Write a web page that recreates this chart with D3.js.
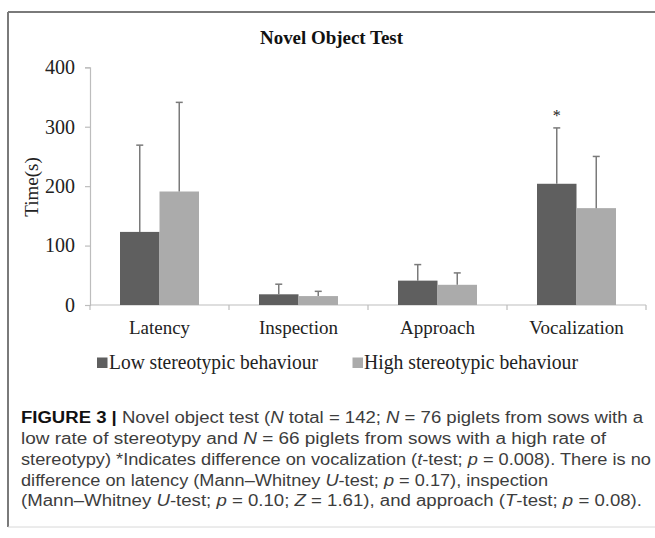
<!DOCTYPE html>
<html>
<head>
<meta charset="utf-8">
<script src="https://cdn.jsdelivr.net/npm/d3@7"></script>
<style>
  html, body { margin: 0; padding: 0; background: #fff; }
  svg { display: block; }
</style>
</head>
<body>
<svg id="chart" width="655" height="538"></svg>
<script>
const categories = ["Latency", "Inspection", "Approach", "Vocalization"];
const seriesNames = ["Low stereotypic behaviour", "High stereotypic behaviour"];
const lowMeans = [123, 18, 41, 204];
const highMeans = [191, 15, 34, 163];
const lowErr = [146, 17, 27, 94];
const highErr = [150, 8, 20, 87];
const yTicks = [0, 100, 200, 300, 400];
const significant = [false, false, false, true];
const titleText = "Novel Object Test";
const yLabel = "Time(s)";

(function () {
const colors = ["#5f5f5f", "#ababab"];
const serif = "'Liberation Serif', 'Times New Roman', serif";
const sans = "'Liberation Sans', Arial, sans-serif";

const svg = d3.select("#chart");

// frame
svg.append("line").attr("x1", 8).attr("x2", 655).attr("y1", 12).attr("y2", 12)
  .attr("stroke", "#7a7a7a").attr("stroke-width", 2);
svg.append("line").attr("x1", 8).attr("x2", 8).attr("y1", 12).attr("y2", 527)
  .attr("stroke", "#7a7a7a").attr("stroke-width", 2);
svg.append("line").attr("x1", 8).attr("x2", 655).attr("y1", 527).attr("y2", 527)
  .attr("stroke", "#d8d8d8").attr("stroke-width", 1);

const mLeft = 90, mRight = 646, mTop = 67.3, mBottom = 305;

const x = d3.scaleBand().domain(categories).range([mLeft, mRight]).padding(0);
const groupW = 79;
const x1 = d3.scaleBand().domain(seriesNames).range([0, groupW]).padding(0);
const y = d3.scaleLinear().domain([0, 400]).range([mBottom, mTop]);

// title
svg.append("text").attr("x", 331.5).attr("y", 44).attr("text-anchor", "middle")
  .attr("font-family", serif).attr("font-weight", "bold").attr("font-size", 18)
  .attr("fill", "#111").attr("textLength", 143).attr("lengthAdjust", "spacingAndGlyphs")
  .text(titleText);

// y axis
const yAxis = svg.append("g").attr("transform", `translate(${mLeft},0)`)
  .call(d3.axisLeft(y).tickValues(yTicks).tickSize(5).tickPadding(10).tickFormat(d3.format("d")));
yAxis.select(".domain").attr("stroke", "#bdbdbd").attr("stroke-width", 1.2);
yAxis.selectAll(".tick line").attr("stroke", "#bdbdbd").attr("stroke-width", 1.2);
yAxis.selectAll(".tick text").attr("font-family", serif).attr("font-size", 20).attr("fill", "#222");

// x axis
const xAxis = svg.append("g").attr("transform", `translate(0,${mBottom})`);
xAxis.append("line").attr("x1", mLeft).attr("x2", mRight).attr("y1", 0).attr("y2", 0)
  .attr("stroke", "#bdbdbd").attr("stroke-width", 1.2);
const boundaries = categories.map(c => x(c)).concat([x(categories[categories.length - 1]) + x.bandwidth()]);
xAxis.selectAll("line.xt").data(boundaries).join("line").attr("class", "xt")
  .attr("x1", d => d).attr("x2", d => d).attr("y1", 0).attr("y2", 5)
  .attr("stroke", "#bdbdbd").attr("stroke-width", 1.2);
xAxis.selectAll("text.cl").data(categories).join("text").attr("class", "cl")
  .attr("x", d => x(d) + x.bandwidth() / 2).attr("y", 29)
  .attr("text-anchor", "middle").attr("font-family", serif).attr("font-size", 19).attr("fill", "#222")
  .text(d => d);

// y label
svg.append("text").attr("transform", "translate(38,187) rotate(-90)")
  .attr("text-anchor", "middle").attr("font-family", serif).attr("font-size", 19).attr("fill", "#222")
  .text(yLabel);

// bars
const data = categories.map((c, i) => ({
  cat: c,
  vals: [
    { s: seriesNames[0], v: lowMeans[i], e: lowErr[i], col: colors[0] },
    { s: seriesNames[1], v: highMeans[i], e: highErr[i], col: colors[1] }
  ]
}));
const off = (x.bandwidth() - groupW) / 2;
const groups = svg.selectAll("g.grp").data(data).join("g").attr("class", "grp")
  .attr("transform", d => `translate(${x(d.cat) + off},0)`);
groups.selectAll("rect").data(d => d.vals).join("rect")
  .attr("x", d => x1(d.s)).attr("width", x1.bandwidth())
  .attr("y", d => y(d.v)).attr("height", d => y(0) - y(d.v))
  .attr("fill", d => d.col);
groups.selectAll("line.eb").data(d => d.vals).join("line").attr("class", "eb")
  .attr("x1", d => x1(d.s) + x1.bandwidth() / 2).attr("x2", d => x1(d.s) + x1.bandwidth() / 2)
  .attr("y1", d => y(d.v)).attr("y2", d => y(d.v + d.e))
  .attr("stroke", "#7a7a7a").attr("stroke-width", 1.5);
groups.selectAll("line.cap").data(d => d.vals).join("line").attr("class", "cap")
  .attr("x1", d => x1(d.s) + x1.bandwidth() / 2 - 3.5).attr("x2", d => x1(d.s) + x1.bandwidth() / 2 + 3.5)
  .attr("y1", d => y(d.v + d.e)).attr("y2", d => y(d.v + d.e))
  .attr("stroke", "#7a7a7a").attr("stroke-width", 1.5);

// significance marker
data.forEach((d, i) => {
  if (!significant[i]) return;
  const v = d.vals[0];
  svg.append("text")
    .attr("x", x(d.cat) + off + x1(v.s) + x1.bandwidth() / 2)
    .attr("y", y(v.v + v.e) - 7)
    .attr("text-anchor", "middle").attr("font-family", serif).attr("font-size", 16).attr("fill", "#222")
    .text("*");
});

// legend
const legendItems = [
  { name: seriesNames[0], col: colors[0], sx: 97, tx: 109, w: 209 },
  { name: seriesNames[1], col: colors[1], sx: 352.5, tx: 364, w: 214 }
];
legendItems.forEach(it => {
  svg.append("rect").attr("x", it.sx).attr("y", 357.5).attr("width", 10.5).attr("height", 10.5).attr("fill", it.col);
  svg.append("text").attr("x", it.tx).attr("y", 368.5)
    .attr("font-family", serif).attr("font-size", 20).attr("fill", "#222")
    .attr("textLength", it.w).attr("lengthAdjust", "spacingAndGlyphs")
    .text(it.name);
});

// caption
const captionLines = [
  { y: 423, w: 622, parts: [["FIGURE 3 |", "b"], [" Novel object test (", ""], ["N", "i"], [" total = 142; ", ""], ["N", "i"], [" = 76 piglets from sows with a", ""]] },
  { y: 444, w: 585, parts: [["low rate of stereotypy and ", ""], ["N", "i"], [" = 66 piglets from sows with a high rate of", ""]] },
  { y: 465, w: 630, parts: [["stereotypy) *Indicates difference on vocalization (", ""], ["t", "i"], ["-test; ", ""], ["p", "i"], [" = 0.008). There is no", ""]] },
  { y: 485.5, w: 527, parts: [["difference on latency (Mann\u2013Whitney ", ""], ["U", "i"], ["-test; ", ""], ["p", "i"], [" = 0.17), inspection", ""]] },
  { y: 506, w: 621, parts: [["(Mann\u2013Whitney ", ""], ["U", "i"], ["-test; ", ""], ["p", "i"], [" = 0.10; ", ""], ["Z", "i"], [" = 1.61), and approach (", ""], ["T", "i"], ["-test; ", ""], ["p", "i"], [" = 0.08).", ""]] }
];
captionLines.forEach(line => {
  const t = svg.append("text").attr("x", 21).attr("y", line.y)
    .attr("font-family", sans).attr("font-size", 16).attr("fill", "#3d3d3d")
    .attr("textLength", line.w).attr("lengthAdjust", "spacingAndGlyphs")
    .style("white-space", "pre");
  line.parts.forEach(p => {
    const ts = t.append("tspan").text(p[0]);
    if (p[1] === "b") ts.attr("font-weight", "bold").attr("fill", "#111");
    if (p[1] === "i") ts.attr("font-style", "italic");
  });
});
})();
</script>
</body>
</html>
